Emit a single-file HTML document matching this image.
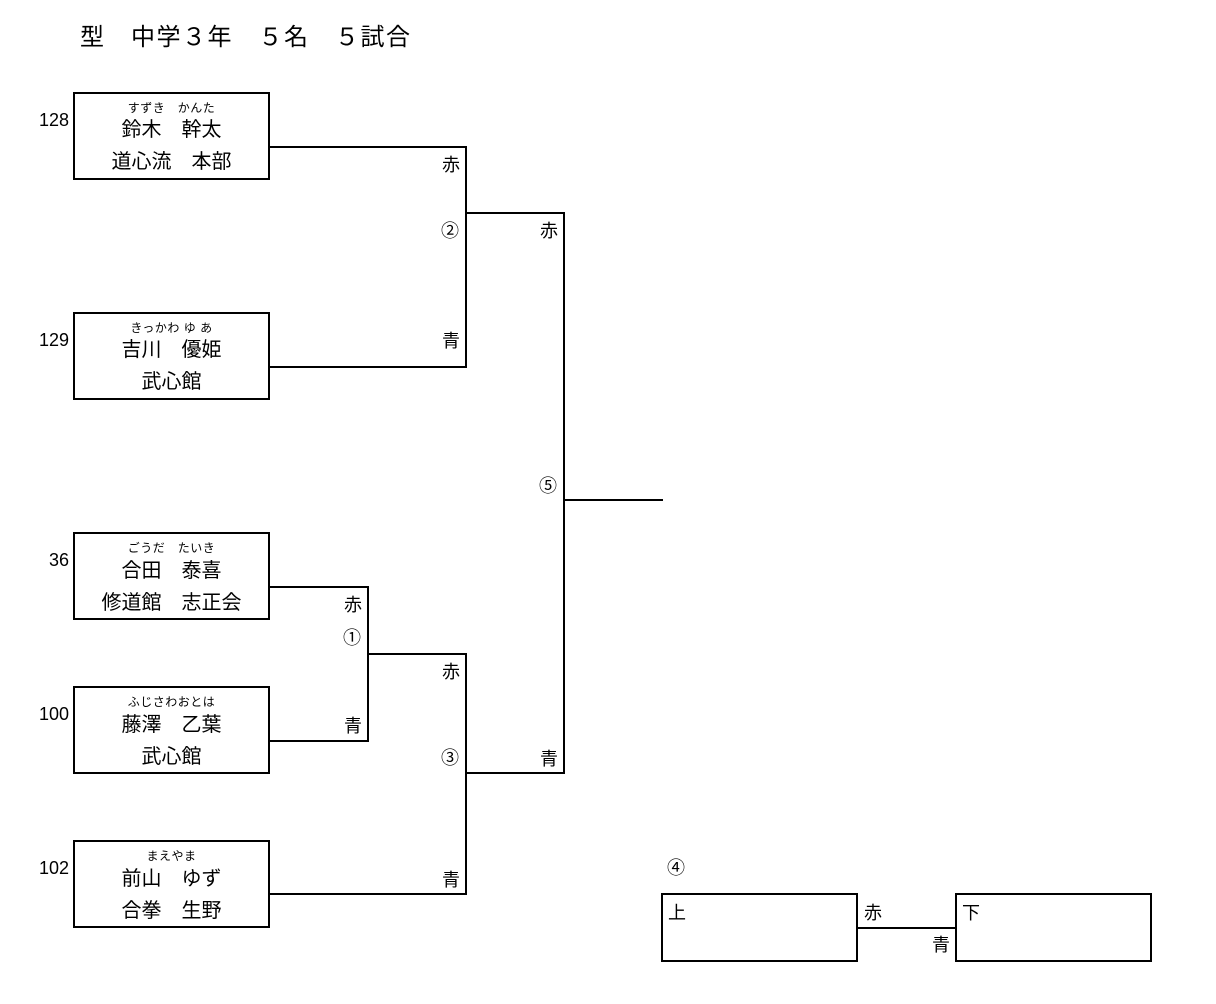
<!DOCTYPE html>
<html><head><meta charset="utf-8"><style>
body{margin:0;width:1216px;height:1004px;background:#fff;position:relative;font-family:"Liberation Sans","Noto Sans CJK JP",sans-serif;color:#000;overflow:hidden}
.t{position:absolute;white-space:nowrap;line-height:1}
.box{position:absolute;border:2px solid #000;box-sizing:border-box;width:197px;height:88px;left:73px}
.h{position:absolute;height:2px;background:#000}
.v{position:absolute;width:2px;background:#000}
.l{font-size:18px}
.c{position:absolute;left:73px;width:197px;text-align:center;line-height:1}
.f{font-size:12px;letter-spacing:0.5px}
.n{font-size:20px}
.num{position:absolute;width:60px;left:9px;text-align:right;font-size:18px;line-height:1}
</style></head><body>
<div class="t" style="left:80px;top:23px;font-size:24px;letter-spacing:1.5px;font-family:'Noto Sans CJK JP',sans-serif">型　中学３年　５名　５試合</div>

<div class="box" style="top:92px"></div>
<div class="c f" style="top:102px">すずき　かんた</div>
<div class="c n" style="top:120px">鈴木　幹太</div>
<div class="c n" style="top:152px">道心流　本部</div>
<div class="num" style="top:111px">128</div>

<div class="box" style="top:312px"></div>
<div class="c f" style="top:322px">きっかわ ゆ あ</div>
<div class="c n" style="top:340px">吉川　優姫</div>
<div class="c n" style="top:372px">武心館</div>
<div class="num" style="top:331px">129</div>

<div class="box" style="top:532px"></div>
<div class="c f" style="top:542px">ごうだ　たいき</div>
<div class="c n" style="top:561px">合田　泰喜</div>
<div class="c n" style="top:593px">修道館　志正会</div>
<div class="num" style="top:551px">36</div>

<div class="box" style="top:686px"></div>
<div class="c f" style="top:696px">ふじさわおとは</div>
<div class="c n" style="top:715px">藤澤　乙葉</div>
<div class="c n" style="top:747px">武心館</div>
<div class="num" style="top:705px">100</div>

<div class="box" style="top:840px"></div>
<div class="c f" style="top:850px">まえやま</div>
<div class="c n" style="top:869px">前山　ゆず</div>
<div class="c n" style="top:901px">合拳　生野</div>
<div class="num" style="top:859px">102</div>

<div class="h" style="left:270px;top:146px;width:197px"></div>
<div class="v" style="left:465px;top:146px;height:222px"></div>
<div class="h" style="left:270px;top:366px;width:197px"></div>
<div class="h" style="left:465px;top:212px;width:100px"></div>
<div class="v" style="left:563px;top:212px;height:562px"></div>
<div class="h" style="left:563px;top:499px;width:100px"></div>

<div class="h" style="left:270px;top:586px;width:99px"></div>
<div class="v" style="left:367px;top:586px;height:156px"></div>
<div class="h" style="left:270px;top:740px;width:99px"></div>
<div class="h" style="left:367px;top:653px;width:100px"></div>
<div class="v" style="left:465px;top:653px;height:242px"></div>
<div class="h" style="left:270px;top:893px;width:197px"></div>
<div class="h" style="left:465px;top:772px;width:100px"></div>

<div class="t l" style="left:442px;top:156px">赤</div>
<div class="t l" style="left:441px;top:222px">②</div>
<div class="t l" style="left:442px;top:332px">青</div>
<div class="t l" style="left:540px;top:222px">赤</div>
<div class="t l" style="left:539px;top:477px">⑤</div>
<div class="t l" style="left:344px;top:596px">赤</div>
<div class="t l" style="left:343px;top:629px">①</div>
<div class="t l" style="left:344px;top:717px">青</div>
<div class="t l" style="left:442px;top:663px">赤</div>
<div class="t l" style="left:441px;top:749px">③</div>
<div class="t l" style="left:442px;top:871px">青</div>
<div class="t l" style="left:540px;top:750px">青</div>

<div class="t l" style="left:667px;top:859px">④</div>
<div class="box" style="left:661px;top:893px;height:69px"></div>
<div class="box" style="left:955px;top:893px;height:69px"></div>
<div class="h" style="left:858px;top:927px;width:98px"></div>
<div class="t l" style="left:668px;top:904px">上</div>
<div class="t l" style="left:962px;top:904px">下</div>
<div class="t l" style="left:864px;top:904px">赤</div>
<div class="t l" style="left:932px;top:936px">青</div>
</body></html>
